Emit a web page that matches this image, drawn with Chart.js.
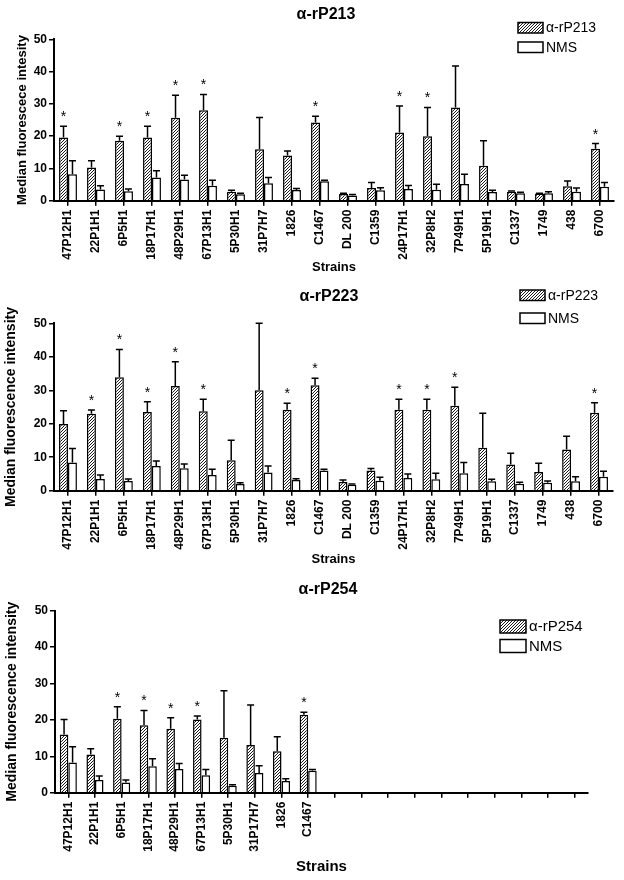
<!DOCTYPE html>
<html>
<head>
<meta charset="utf-8">
<script src="https://cdn.jsdelivr.net/npm/chart.js@4.4.0/dist/chart.umd.min.js"></script>
<style>
  html, body { margin: 0; padding: 0; background: #fff; width: 624px; height: 880px; overflow: hidden; }
  .panel { position: absolute; left: 0; width: 624px; }
</style>
</head>
<body>
<div class="panel" style="top:0px;height:280px"><canvas id="chart213"></canvas></div>
<div class="panel" style="top:280px;height:290px"><canvas id="chart223"></canvas></div>
<div class="panel" style="top:575px;height:305px"><canvas id="chart254"></canvas></div>
<script>
// strains on the x axis
const strains = ['47P12H1', '22P1H1', '6P5H1', '18P17H1', '48P29H1', '67P13H1', '5P30H1', '31P7H7',
  '1826', 'C1467', 'DL 200', 'C1359', '24P17H1', '32P8H2', '7P49H1', '5P19H1', 'C1337', '1749', '438', '6700'];
// the last panel only has the first 10 strains, the rest of the axis stays empty
const strains254 = ['47P12H1', '22P1H1', '6P5H1', '18P17H1', '48P29H1', '67P13H1', '5P30H1', '31P17H7',
  '1826', 'C1467', '', '', '', '', '', '', '', '', '', ''];
const yTicks = [0, 10, 20, 30, 40, 50];

// ---- alpha-rP213 ----
const p213Mean = [19.6, 10.3, 18.6, 19.6, 25.7, 28.0, 2.8, 15.9, 14.0, 24.2, 2.1, 3.9, 21.1, 20.0, 28.9, 10.8, 2.8, 2.2, 4.5, 16.1];
const p213Sd   = [3.5, 2.1, 1.4, 3.5, 7.0, 4.9, 0.4, 9.9, 1.4, 2.0, 0.2, 1.7, 8.2, 8.9, 12.8, 7.8, 0.2, 0.1, 1.6, 1.6];
const nms213Mean = [8.2, 3.5, 2.9, 7.2, 6.6, 4.6, 2.0, 5.4, 3.3, 6.0, 1.6, 3.2, 3.6, 3.4, 5.2, 2.7, 2.3, 2.3, 2.8, 4.3];
const nms213Sd   = [4.2, 1.1, 0.7, 2.1, 1.3, 1.7, 0.3, 1.8, 0.5, 0.3, 0.3, 0.8, 1.1, 1.7, 3.0, 0.5, 0.3, 0.5, 1.1, 1.3];
const sig213 = [1, 0, 1, 1, 1, 1, 0, 0, 0, 1, 0, 0, 1, 1, 0, 0, 0, 0, 0, 1];

// ---- alpha-rP223 ----
const p223Mean = [19.9, 23.0, 33.9, 23.5, 31.3, 23.7, 9.1, 30.0, 24.2, 31.5, 2.6, 6.0, 24.2, 24.2, 25.4, 12.8, 7.8, 5.6, 12.3, 23.3];
const p223Sd   = [4.0, 1.1, 8.3, 3.1, 7.2, 3.6, 6.0, 20.0, 1.9, 2.1, 0.6, 0.6, 3.1, 3.1, 5.5, 10.3, 3.4, 2.6, 4.0, 3.0];
const nms223Mean = [8.4, 3.5, 2.9, 7.4, 6.7, 4.7, 2.0, 5.4, 3.2, 6.0, 1.8, 3.0, 3.8, 3.4, 5.2, 2.8, 2.1, 2.4, 2.8, 4.2];
const nms223Sd   = [4.2, 1.2, 0.6, 1.5, 1.3, 1.7, 0.4, 2.0, 0.4, 0.4, 0.2, 1.0, 1.2, 1.8, 3.2, 0.6, 0.4, 0.5, 1.4, 1.6];
const sig223 = [0, 1, 1, 1, 1, 1, 0, 0, 1, 1, 0, 0, 1, 1, 1, 0, 0, 0, 0, 1];

// ---- alpha-rP254 ----
const p254Mean = [16.0, 10.5, 20.3, 18.5, 17.6, 20.1, 15.1, 13.1, 11.4, 21.4];
const p254Sd   = [4.1, 1.6, 3.3, 4.1, 3.0, 1.0, 12.9, 11.0, 4.0, 0.7];
const nms254Mean = [8.3, 3.5, 2.8, 7.3, 6.5, 4.8, 1.9, 5.4, 3.2, 6.0];
const nms254Sd   = [4.3, 1.1, 0.7, 2.0, 1.5, 1.6, 0.3, 2.0, 0.6, 0.4];
const sig254 = [0, 0, 1, 1, 1, 1, 0, 0, 0, 1];

const FONT = '"Liberation Sans", Arial, Helvetica, sans-serif';

// diagonal hatch for the antibody bars
function makeHatch(){
  let c = document.createElement('canvas');
  c.width = 3; c.height = 3;
  let g = c.getContext('2d');
  g.fillStyle = '#fff';
  g.fillRect(0, 0, 3, 3);
  g.strokeStyle = '#000';
  g.lineWidth = 0.9;
  g.beginPath();
  g.moveTo(0, 3); g.lineTo(3, 0);
  g.moveTo(-1, 1); g.lineTo(1, -1);
  g.moveTo(2, 4); g.lineTo(4, 2);
  g.stroke();
  return g.createPattern(c, 'repeat');
}
const hatch = makeHatch();

// error bars, asterisks, title and legend
const extras = {
  id: 'extras',
  afterDatasetsDraw(chart, args, o){
    let ctx = chart.ctx;
    let y = chart.scales.y;
    ctx.save();
    ctx.strokeStyle = '#000';
    ctx.lineWidth = 1.5;
    chart.data.datasets.forEach(function(ds, i){
      let meta = chart.getDatasetMeta(i);
      meta.data.forEach(function(bar, j){
        if (ds.data[j] == null) return;
        let yBar = y.getPixelForValue(ds.data[j]);
        let yTop = y.getPixelForValue(ds.data[j] + o.sd[i][j]);
        ctx.beginPath();
        ctx.moveTo(bar.x, yBar);
        ctx.lineTo(bar.x, yTop);
        ctx.moveTo(bar.x - 3.5, yTop);
        ctx.lineTo(bar.x + 3.5, yTop);
        ctx.stroke();
        if (i === 0 && o.sig[j]) {
          ctx.fillStyle = '#000';
          ctx.font = '14px ' + FONT;
          ctx.textAlign = 'center';
          ctx.textBaseline = 'alphabetic';
          ctx.fillText('*', bar.x, yTop - 5);
        }
      });
    });
    ctx.restore();
  },
  afterDraw(chart, args, o){
    let ctx = chart.ctx;
    ctx.save();
    ctx.fillStyle = '#000';
    ctx.textAlign = 'center';
    ctx.textBaseline = 'middle';
    ctx.font = 'bold 16px ' + FONT;
    ctx.fillText(o.title, o.titleX, o.titleY);

    // legend
    let L = o.legend;
    ctx.textAlign = 'left';
    ctx.font = L.size + 'px ' + FONT;
    chart.data.datasets.forEach(function(ds, i){
      let top = L.y + i * L.gap;
      ctx.fillStyle = ds.backgroundColor;
      ctx.fillRect(L.x, top, L.w, L.h);
      ctx.strokeStyle = '#000';
      ctx.lineWidth = 1.5;
      ctx.strokeRect(L.x, top, L.w, L.h);
      ctx.fillStyle = '#000';
      ctx.fillText(ds.label, L.x + L.w + 3, top + L.h / 2 + 0.5);
    });
    ctx.restore();
  }
};

function drawPanel(canvasId, p){
  new Chart(document.getElementById(canvasId), {
    type: 'bar',
    data: {
      labels: p.labels,
      datasets: [
        { label: p.name, data: p.mean, backgroundColor: hatch, borderColor: '#000', borderWidth: 1.5 },
        { label: 'NMS', data: p.nms, backgroundColor: '#fff', borderColor: '#000', borderWidth: 1.5 }
      ]
    },
    options: {
      responsive: true,
      maintainAspectRatio: false,
      animation: false,
      categoryPercentage: 0.64,
      barPercentage: 1.0,
      layout: { padding: { top: p.top, left: 0, right: 624 - p.right, bottom: 0 } },
      plugins: {
        legend: { display: false },
        tooltip: { enabled: false },
        extras: {
          sd: [p.sd, p.nmsSd], sig: p.sig,
          title: p.name, titleX: p.titleX, titleY: p.titleY,
          legend: p.legend
        }
      },
      scales: {
        x: {
          offset: true,
          grid: { display: true, drawOnChartArea: false, drawTicks: true, tickLength: 5, offset: false, color: '#000', lineWidth: 1.5 },
          border: { display: true, color: '#000', width: 2 },
          ticks: { autoSkip: false, maxRotation: 90, minRotation: 90, padding: 4, color: '#000', font: { family: FONT, size: 12, weight: 'bold' } },
          title: { display: true, text: 'Strains', color: '#000', font: { family: FONT, size: p.xTitleSize, weight: 'bold' }, padding: { top: 0, bottom: p.xTitlePad } },
          afterFit: function(s){ s.height = p.height - p.bottom; s.paddingLeft = 0; s.paddingRight = 0; s.paddingTop = 0; s.paddingBottom = 0; }
        },
        y: {
          min: 0, max: 50,
          afterBuildTicks: function(s){ s.ticks = yTicks.map(function(v){ return { value: v }; }); },
          grid: { display: true, drawOnChartArea: false, drawTicks: true, tickLength: 5, color: '#000', lineWidth: 1.5 },
          border: { display: true, color: '#000', width: 2 },
          ticks: { padding: 2, color: '#000', font: { family: FONT, size: 12, weight: 'bold' } },
          title: { display: true, text: p.yTitle, color: '#000', font: { family: FONT, size: p.yTitleSize, weight: 'bold' }, padding: { top: p.yTitlePad, bottom: 0 } },
          afterFit: function(s){ s.width = p.left; s.paddingLeft = 0; s.paddingRight = 0; s.paddingTop = 0; s.paddingBottom = 0; }
        }
      }
    },
    plugins: [extras]
  });
}

drawPanel('chart213', {
  name: 'α-rP213', labels: strains, mean: p213Mean, sd: p213Sd, nms: nms213Mean, nmsSd: nms213Sd, sig: sig213,
  height: 280, top: 39.3, bottom: 200.7, left: 54, right: 614,
  titleX: 326, titleY: 15,
  yTitle: 'Median fluorescece intesity', yTitleSize: 13, yTitlePad: 15,
  xTitleSize: 13, xTitlePad: 5,
  legend: { x: 518, y: 22.5, w: 25, h: 10.5, gap: 19.5, size: 14 }
});

drawPanel('chart223', {
  name: 'α-rP223', labels: strains, mean: p223Mean, sd: p223Sd, nms: nms223Mean, nmsSd: nms223Sd, sig: sig223,
  height: 290, top: 43.3, bottom: 210.7, left: 54, right: 613,
  titleX: 329, titleY: 16.7,
  yTitle: 'Median fluorescence intensity', yTitleSize: 14, yTitlePad: 2.5,
  xTitleSize: 13, xTitlePad: 3,
  legend: { x: 520, y: 10, w: 25, h: 10.5, gap: 23, size: 14 }
});

drawPanel('chart254', {
  name: 'α-rP254', labels: strains254, mean: p254Mean, sd: p254Sd, nms: nms254Mean, nmsSd: nms254Sd, sig: sig254,
  height: 305, top: 35.7, bottom: 217.7, left: 55, right: 588,
  titleX: 328, titleY: 15,
  yTitle: 'Median fluorescence intensity', yTitleSize: 14, yTitlePad: 3.5,
  xTitleSize: 15, xTitlePad: 4.3,
  legend: { x: 500, y: 45, w: 26, h: 13, gap: 19.5, size: 15 }
});
</script>
</body>
</html>
